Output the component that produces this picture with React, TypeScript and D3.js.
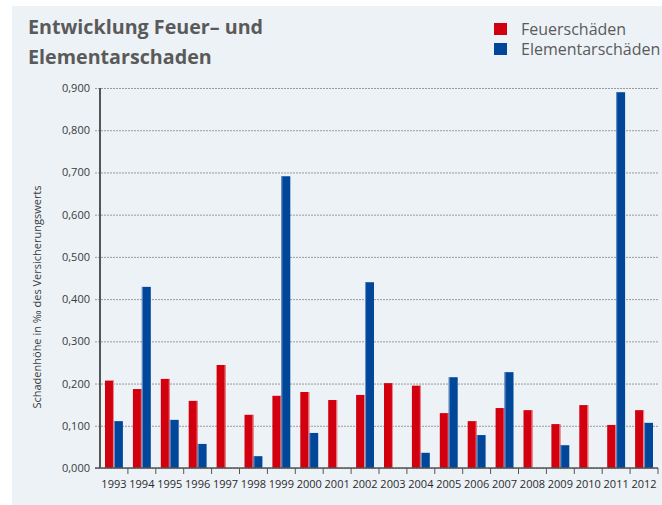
import React, { useEffect, useRef } from "react";
import * as d3 from "d3";

// data
const years = [
  "1993", "1994", "1995", "1996", "1997", "1998", "1999", "2000", "2001", "2002",
  "2003", "2004", "2005", "2006", "2007", "2008", "2009", "2010", "2011", "2012"
];
const feuer = [
  0.207, 0.187, 0.211, 0.159, 0.244, 0.126, 0.171, 0.180, 0.161, 0.173,
  0.201, 0.195, 0.130, 0.111, 0.142, 0.137, 0.104, 0.149, 0.102, 0.137
];
const elementar = [
  0.111, 0.429, 0.114, 0.057, null, 0.028, 0.691, 0.083, null, 0.440,
  null, 0.036, 0.215, 0.078, 0.227, null, 0.054, null, 0.890, 0.107
];
const yTicks = [0, 0.1, 0.2, 0.3, 0.4, 0.5, 0.6, 0.7, 0.8, 0.9];
const seriesNames = ["Feuerschäden", "Elementarschäden"];
const seriesColors = ["#d2000f", "#00479a"];

const W = 662;
const H = 505;
const FONT = "'Open Sans', 'Noto Sans', sans-serif";

export default function App() {
  const ref = useRef<SVGSVGElement>(null);

  useEffect(() => {
    const svg = d3.select(ref.current);
    svg.selectAll("*").remove();

    // panel background
    svg.append("rect").attr("width", W).attr("height", H).attr("fill", "#ffffff");
    svg.append("rect").attr("x", 12).attr("y", 6).attr("width", W - 12).attr("height", H - 6)
      .attr("fill", "#edf2f7");

    // title
    const title = svg.append("text")
      .attr("font-family", FONT).attr("font-weight", 700).attr("font-size", 19.7)
      .attr("fill", "#5a5a5a");
    title.append("tspan").attr("x", 28).attr("y", 34).text("Entwicklung Feuer– und");
    title.append("tspan").attr("x", 28).attr("y", 64).text("Elementarschaden");

    // legend
    seriesNames.forEach((name, i) => {
      svg.append("rect").attr("x", 494).attr("y", 23 + i * 20).attr("width", 13).attr("height", 12)
        .attr("fill", seriesColors[i]);
      svg.append("text").attr("x", 521).attr("y", 35 + i * 20)
        .attr("font-family", FONT).attr("font-size", 16).attr("fill", "#5a5a5a")
        .text(name);
    });

    const margin = { left: 100, right: 4, top: 88, bottom: 37 };
    const innerW = W - margin.left - margin.right;
    const innerH = H - margin.top - margin.bottom;

    const x = d3.scaleBand().domain(years).range([0, innerW]).paddingInner(0).paddingOuter(0);
    const x1 = d3.scaleBand().domain(["0", "1"]).range([5, x.bandwidth() - 5]);
    const y = d3.scaleLinear().domain([0, 0.9]).range([innerH, 0]);

    const g = svg.append("g").attr("transform", `translate(${margin.left},${margin.top})`);

    // dotted gridlines + y axis labels
    const fmt = (v: number) => d3.format(".3f")(v).replace(".", ",");
    const yAxis = d3.axisLeft(y).tickValues(yTicks).tickFormat(fmt as any)
      .tickSize(-innerW - 5).tickPadding(8);
    const yG = g.append("g").attr("transform", "translate(-5,0)").call(yAxis);
    yG.select(".domain").remove();
    yG.selectAll(".tick line")
      .attr("stroke", "#9a9a9a").attr("stroke-width", 1).attr("stroke-dasharray", "2,1");
    yG.selectAll(".tick text")
      .attr("font-family", FONT).attr("font-size", 11).attr("fill", "#3a3a3a")
      .attr("x", -5);

    // bars
    const seriesData = [feuer, elementar];
    seriesData.forEach((vals, si) => {
      const rows = years.map((yr, i) => ({ yr, v: vals[i] })).filter(d => d.v != null);
      g.selectAll(`.bar${si}`)
        .data(rows)
        .enter().append("rect")
        .attr("class", `bar${si}`)
        .attr("x", d => (x(d.yr) as number) + (x1(String(si)) as number))
        .attr("y", d => y(d.v as number))
        .attr("width", x1.bandwidth())
        .attr("height", d => innerH - y(d.v as number))
        .attr("fill", seriesColors[si]);
      // light edge on each bar
      g.selectAll(`.edge${si}`)
        .data(rows)
        .enter().append("rect")
        .attr("class", `edge${si}`)
        .attr("x", d => (x(d.yr) as number) + (x1(String(si)) as number) + (si === 0 ? x1.bandwidth() - 1 : 0))
        .attr("y", d => y(d.v as number))
        .attr("width", 1)
        .attr("height", d => innerH - y(d.v as number))
        .attr("fill", si === 0 ? "#f08a90" : "#6f93c6");
    });

    // y axis line
    g.append("line").attr("x1", 0).attr("x2", 0).attr("y1", 0).attr("y2", innerH)
      .attr("stroke", "#555").attr("stroke-width", 2);

    // x axis
    const xAxis = d3.axisBottom(x).tickSize(0).tickPadding(12);
    const xG = g.append("g").attr("transform", `translate(0,${innerH})`).call(xAxis);
    xG.select(".domain").remove();
    xG.selectAll(".tick text")
      .attr("font-family", FONT).attr("font-size", 11).attr("fill", "#2a2a2a");
    g.append("line").attr("x1", -5).attr("x2", innerW).attr("y1", innerH).attr("y2", innerH)
      .attr("stroke", "#555").attr("stroke-width", 1.5);
    g.selectAll(".xtick")
      .data(years.slice(1).concat(["end"]))
      .enter().append("line")
      .attr("class", "xtick")
      .attr("x1", d => (d === "end" ? innerW : (x(d) as number)))
      .attr("x2", d => (d === "end" ? innerW : (x(d) as number)))
      .attr("y1", innerH).attr("y2", innerH + 6)
      .attr("stroke", "#555").attr("stroke-width", 1);

    // y axis title
    svg.append("text")
      .attr("transform", `translate(41,${297}) rotate(-90)`)
      .attr("text-anchor", "middle")
      .attr("font-family", FONT).attr("font-size", 11).attr("fill", "#3a3a3a")
      .text("Schadenhöhe in ‰ des Versicherungswerts");
  }, []);

  return (
    <svg ref={ref} width={W} height={H}
      style={{ position: "absolute", left: 0, top: 0, display: "block" }} />
  );
}
